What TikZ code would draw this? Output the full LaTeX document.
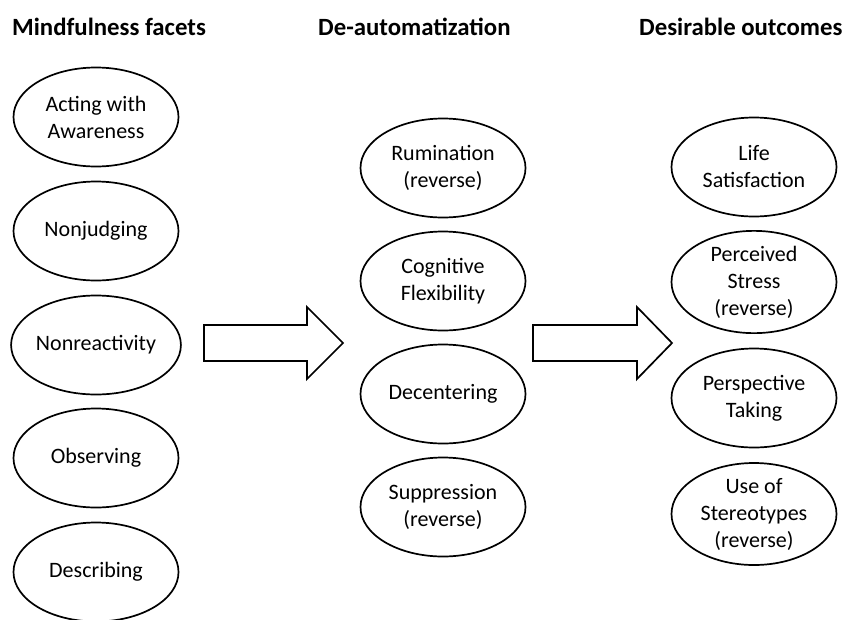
\documentclass[tikz,border=0pt]{standalone}
\usepackage{fontspec}
\setmainfont{Carlito}
\usetikzlibrary{shapes.geometric}
\begin{document}
\begin{tikzpicture}[x=1pt,y=-1pt,
  oval/.style={ellipse, draw, line width=1.7pt, minimum width=165pt, minimum height=99pt,
    inner sep=0pt, align=center, font=\fontsize{22}{27}\selectfont},
  header/.style={anchor=west, inner sep=0pt, font=\bfseries\fontsize{24.8}{29}\selectfont},
  blockarrow/.style={draw, line width=1.7pt, fill=white, line join=miter}]
\useasboundingbox (0,0) rectangle (859,619);

% headers
\node[header] (h1) at (12,27) {Mindfulness facets};
\node[header] (h2) at (318,27) {De-automatization};
\node[header] (h3) at (639,27) {Desirable outcomes};

% mindfulness facets
\node[oval] (a1) at (96,117) {Acting with\\Awareness};
\node[oval] (a2) at (96,231) {Nonjudging};
\node[oval] (a3) at (96,345) {Nonreactivity};
\node[oval] (a4) at (96,458) {Observing};
\node[oval] (a5) at (96,572) {Describing};

% de-automatization
\node[oval] (b1) at (443,168) {Rumination\\(reverse)};
\node[oval] (b2) at (443,281) {Cognitive\\Flexibility};
\node[oval] (b3) at (443,394) {Decentering};
\node[oval] (b4) at (443,507) {Suppression\\(reverse)};

% outcomes
\node[oval] (c1) at (754,167) {Life\\Satisfaction};
\node[oval] (c2) at (754,282) {Perceived\\Stress\\(reverse)};
\node[oval] (c3) at (754,398) {Perspective\\Taking};
\node[oval] (c4) at (754,514) {Use of\\Stereotypes\\(reverse)};

% block arrows
\draw[blockarrow] (204,325) -- (307,325) -- (307,307) -- (343,343) -- (307,379) -- (307,361) -- (204,361) -- cycle;
\draw[blockarrow] (533,325) -- (637,325) -- (637,307) -- (672,343) -- (637,379) -- (637,361) -- (533,361) -- cycle;
\end{tikzpicture}
\end{document}
